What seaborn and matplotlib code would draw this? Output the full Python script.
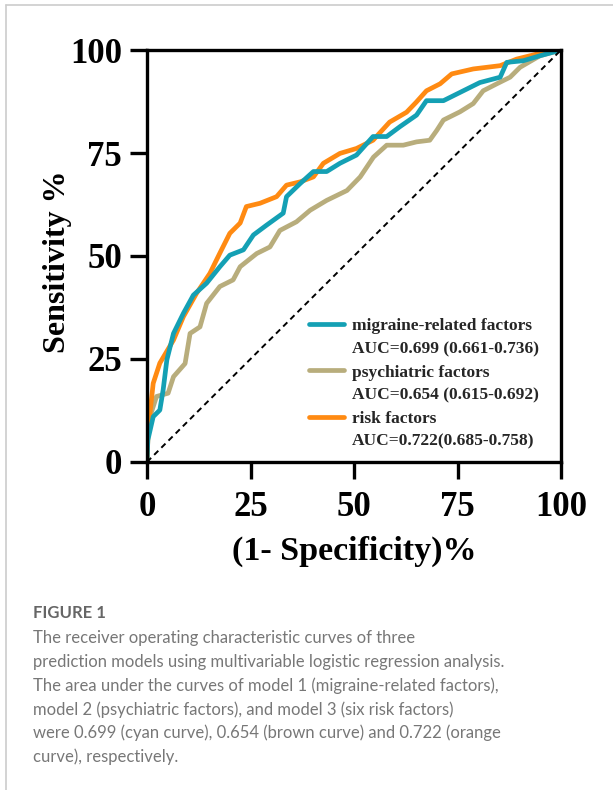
import numpy as np
import pandas as pd
import seaborn as sns
import matplotlib.pyplot as plt
from matplotlib.lines import Line2D

# ROC points, in percent: (1-specificity, sensitivity)
mig_fpr = [0, 0.2, 1.5, 3.1, 3.9, 4.8, 6.4, 8.8, 11.2, 14.4, 17.6, 20.0, 23.3, 25.7,
           28.9, 32.9, 33.7, 37.0, 40.2, 43.4, 46.6, 50.6, 54.6, 57.9, 61.1, 65.1,
           67.5, 71.6, 75.6, 80.4, 85.3, 86.9, 90.9, 94.9, 100]
mig_tpr = [0, 5.3, 11.0, 12.6, 17.5, 24.8, 31.2, 36.1, 40.5, 43.4, 47.4, 50.2, 51.5, 55.1,
           57.5, 60.4, 64.4, 67.6, 70.5, 70.5, 72.5, 74.5, 79.0, 79.0, 81.4, 84.2,
           87.7, 87.7, 89.7, 92.1, 93.4, 97.0, 97.4, 98.6, 100]

psy_fpr = [0, 0.2, 2.3, 5.1, 6.4, 9.2, 10.4, 12.8, 14.4, 17.6, 20.8, 22.5, 26.5, 29.7,
           32.1, 36.1, 39.4, 43.4, 48.3, 51.5, 54.7, 57.9, 61.9, 65.1, 68.3, 70.0,
           71.6, 75.6, 78.8, 81.2, 84.5, 87.7, 90.1, 94.9, 100]
psy_tpr = [0, 9.4, 15.9, 16.7, 20.7, 23.9, 31.2, 32.8, 38.5, 42.6, 44.2, 47.4, 50.6, 52.2,
           56.2, 58.3, 61.1, 63.5, 65.9, 69.2, 74.0, 76.9, 76.9, 77.7, 78.1, 80.5,
           83.0, 85.0, 87.0, 90.1, 91.8, 93.4, 95.8, 98.6, 100]

risk_fpr = [0, 0.3, 1.5, 3.1, 6.4, 8.8, 12.0, 15.2, 17.6, 20.0, 22.5, 24.0, 27.3, 31.3,
            33.7, 37.0, 40.2, 42.6, 46.6, 50.6, 54.6, 58.6, 62.7, 65.0, 67.5, 70.8,
            73.6, 78.8, 85.3, 89.3, 94.9, 100]
risk_tpr = [0, 8.0, 19.1, 24.0, 29.6, 35.3, 41.0, 45.8, 50.7, 55.5, 58.0, 62.0, 62.8, 64.4,
            67.2, 68.0, 69.2, 72.5, 74.9, 76.1, 78.1, 82.5, 84.9, 87.3, 90.1, 91.8,
            94.2, 95.4, 96.2, 97.8, 99.2, 100]

labels = ["migraine-related factors", "psychiatric factors", "risk factors"]
auc_text = ["AUC=0.699 (0.661-0.736)", "AUC=0.654 (0.615-0.692)", "AUC=0.722(0.685-0.758)"]
colors = ["#14A0B4", "#B8AD7C", "#FF8A12"]
ticks = [0, 25, 50, 75, 100]

caption = [
    "The receiver operating characteristic curves of three",
    "prediction models using multivariable logistic regression analysis.",
    "The area under the curves of model 1 (migraine-related factors),",
    "model 2 (psychiatric factors), and model 3 (six risk factors)",
    "were 0.699 (cyan curve), 0.654 (brown curve) and 0.722 (orange",
    "curve), respectively.",
]

sns.set_style("white")
plt.rcParams["font.family"] = ["Liberation Serif", "DejaVu Serif"]

fig = plt.figure(figsize=(6.13, 7.90), dpi=100)
ax = fig.add_axes([0.2398, 0.4152, 0.6754, 0.5215])

curves = [(mig_fpr, mig_tpr), (psy_fpr, psy_tpr), (risk_fpr, risk_tpr)]
# draw tan first, then orange, then cyan on top
for i in [1, 2, 0]:
    df = pd.DataFrame({"fpr": curves[i][0], "tpr": curves[i][1]})
    sns.lineplot(data=df, x="fpr", y="tpr", sort=False, color=colors[i],
                 linewidth=3.4, ax=ax, estimator=None)

ax.plot([0, 100], [0, 100], color="black", linestyle=(0, (3, 2.2)), linewidth=1.4)

ax.set_xlim(0, 100)
ax.set_ylim(0, 100)
ax.set_xticks(ticks)
ax.set_yticks(ticks)
ax.set_xticklabels([str(t) for t in ticks], fontsize=25, fontweight="bold")
ax.set_yticklabels([str(t) for t in ticks], fontsize=25, fontweight="bold")
ax.tick_params(axis="both", direction="out", length=12, width=2.4, pad=6,
               bottom=True, left=True, color="black", labelcolor="black")
ax.tick_params(axis="x", pad=9)
for s in ax.spines.values():
    s.set_linewidth(2.4)
    s.set_color("black")
ax.set_xlabel("(1- Specificity)%", fontsize=24.5, fontweight="bold", labelpad=8,
              color="black")
ax.set_ylabel("Sensitivity %", fontsize=23, fontweight="bold", color="black")
ax.yaxis.set_label_coords(-0.18, 0.487)

handles = []
texts = []
empty = Line2D([], [], color="none")
for i in range(3):
    handles += [Line2D([], [], color=colors[i], linewidth=3.4), empty]
    texts += [labels[i], auc_text[i]]
ax.legend(handles, texts, loc="lower right", bbox_to_anchor=(0.976, 0.0), frameon=False,
          prop={"family": ["Liberation Serif"], "weight": "bold", "size": 12.5},
          handlelength=2.0, handletextpad=0.45, labelspacing=0.4, borderaxespad=0.3)

# page frame
fig.add_artist(Line2D([0.0098, 0.0098], [0, 0.9937], color="#cccccc", linewidth=1.2))
fig.add_artist(Line2D([0.0098, 1.0], [0.9937, 0.9937], color="#cccccc", linewidth=1.2))

fig.text(33 / 613, 1 - 613 / 790, "FIGURE 1", family="Lato", fontsize=12,
         fontweight="bold", color="#666666", va="center")
for k, line in enumerate(caption):
    fig.text(33 / 613, 1 - (638 + k * 23.8) / 790, line, family="Lato",
             fontsize=12, color="#777777", va="center")

fig.savefig("out.png", dpi=100)
